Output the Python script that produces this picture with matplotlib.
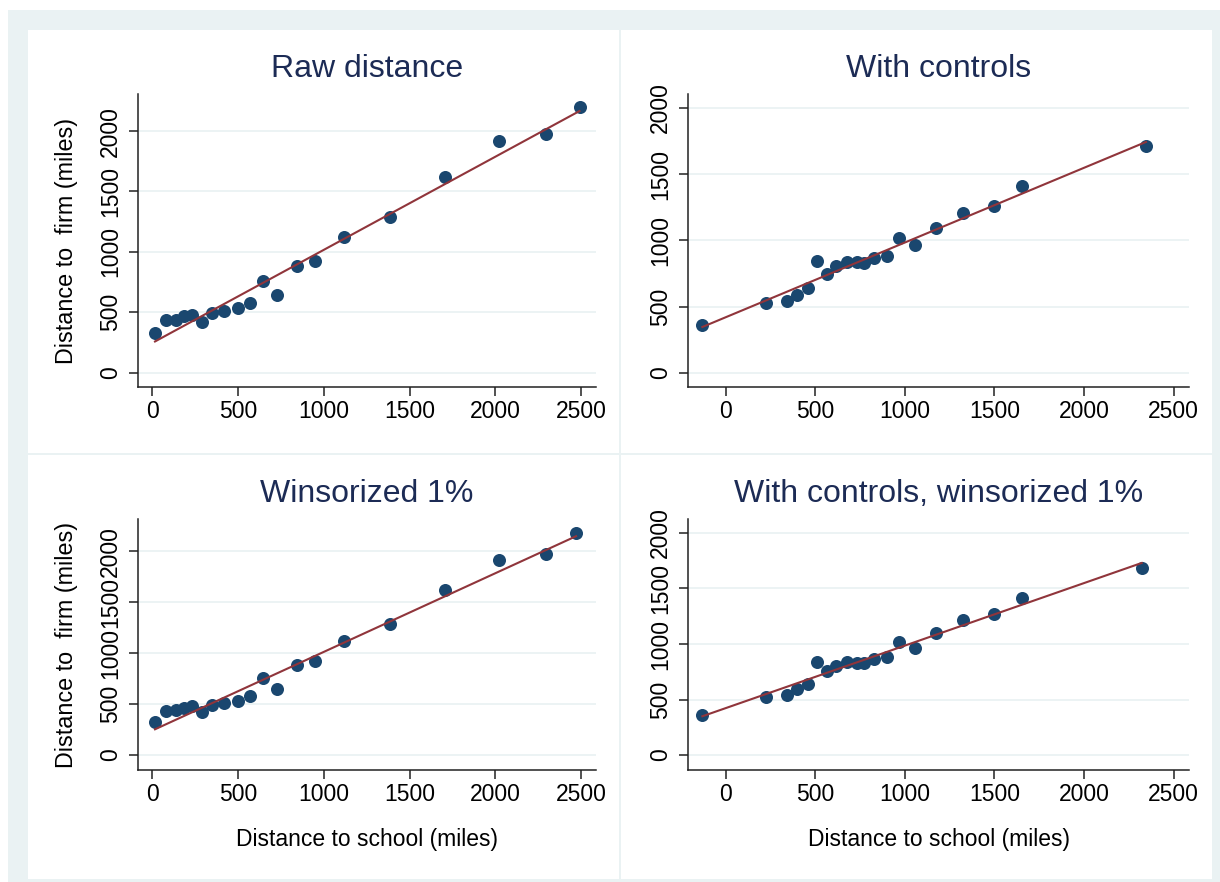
import numpy as np
import matplotlib
matplotlib.use('Agg')
import matplotlib.pyplot as plt
from matplotlib.patches import Rectangle

plt.rcParams['font.family'] = ['Liberation Sans', 'DejaVu Sans']

# binned points
raw_x = [16, 83, 138, 187, 233, 288, 350, 417, 498, 570, 643, 729, 844, 948, 1116, 1388, 1706, 2020, 2292, 2490]
raw_y = [326, 437, 437, 465, 478, 418, 492, 512, 531, 575, 755, 644, 885, 921, 1120, 1286, 1621, 1920, 1972, 2202]
raw_fit_x = [16, 2490]
raw_fit_y = [257, 2166]

ctrl_x = [-130, 228, 343, 397, 457, 512, 568, 618, 676, 731, 774, 830, 902, 967, 1058, 1175, 1322, 1498, 1656, 2346]
ctrl_y = [360, 528, 541, 586, 644, 843, 750, 808, 835, 835, 828, 868, 883, 1016, 966, 1097, 1210, 1260, 1411, 1711]
ctrl_fit_x = [-130, 2346]
ctrl_fit_y = [347, 1744]

wins_x = [16, 83, 138, 187, 233, 288, 350, 417, 498, 570, 643, 729, 844, 948, 1116, 1388, 1706, 2020, 2292, 2470]
wins_y = [321, 436, 437, 465, 478, 418, 492, 512, 531, 575, 754, 646, 885, 921, 1120, 1286, 1621, 1918, 1974, 2185]
wins_fit_x = [16, 2470]
wins_fit_y = [252, 2150]

ctrlw_x = [-130, 228, 343, 397, 457, 512, 568, 618, 676, 731, 774, 830, 902, 967, 1058, 1175, 1322, 1498, 1656, 2322]
ctrlw_y = [361, 526, 541, 593, 638, 839, 755, 803, 839, 833, 830, 866, 881, 1014, 966, 1098, 1212, 1266, 1417, 1684]
ctrlw_fit_x = [-130, 2322]
ctrlw_fit_y = [349, 1730]

titles = ['Raw distance', 'With controls', 'Winsorized 1%', 'With controls, winsorized 1%']
xticks = [0, 500, 1000, 1500, 2000, 2500]
yticks = [0, 500, 1000, 1500, 2000]

W, H = 1220, 882
bg = '#EAF2F3'
navy = '#1A476F'
maroon = '#90353B'
title_col = '#1C2B55'

fig = plt.figure(figsize=(W / 100, H / 100), dpi=100, facecolor='white')

def px_rect(l, t, r, b, color):
    fig.patches.append(Rectangle((l / W, 1 - b / H), (r - l) / W, (b - t) / H,
                                 transform=fig.transFigure, facecolor=color,
                                 edgecolor='none', zorder=-2))

# light graph region, then white panels on it
px_rect(8, 10, 1220, 882, bg)
for (l, t, r, b) in [(28, 30, 619, 453), (621, 30, 1212, 453), (28, 455, 619, 879), (621, 455, 1212, 879)]:
    px_rect(l, t, r, b, 'white')

panels = [
    (raw_x, raw_y, raw_fit_x, raw_fit_y, (138, 94, 596, 387), (-83, 2586), (-120, 2307)),
    (ctrl_x, ctrl_y, ctrl_fit_x, ctrl_fit_y, (688, 94, 1189, 387), (-210, 2586), (-106, 2106)),
    (wins_x, wins_y, wins_fit_x, wins_fit_y, (138, 519, 596, 770), (-83, 2586), (-148, 2319)),
    (ctrlw_x, ctrlw_y, ctrlw_fit_x, ctrlw_fit_y, (688, 519, 1189, 770), (-210, 2586), (-135, 2126)),
]

for i, (x, y, fx, fy, box, xl, yl) in enumerate(panels):
    l, t, r, b = box
    ax = fig.add_axes([l / W, 1 - b / H, (r - l) / W, (b - t) / H])
    ax.patch.set_visible(False)
    ax.scatter(x, y, s=88, color=navy, zorder=3, linewidths=0)
    ax.plot(fx, fy, color=maroon, lw=1.5, zorder=4)
    ax.set_xlim(xl)
    ax.set_ylim(yl)
    ax.set_xticks(xticks)
    ax.set_yticks(yticks)
    ax.grid(axis='y', color=bg, lw=1.3, zorder=1)
    ax.set_axisbelow(True)
    for s in ['top', 'right']:
        ax.spines[s].set_visible(False)
    for s in ['left', 'bottom']:
        ax.spines[s].set_linewidth(1.1)
        ax.spines[s].set_color('#222222')
    ax.tick_params(axis='both', length=6.5, width=1.1, color='#222222', labelsize=16.5)
    ax.tick_params(axis='x', pad=3)
    ax.tick_params(axis='y', pad=5)
    for lab in ax.get_yticklabels():
        lab.set_rotation(90)
        lab.set_va('center')
    ax.set_title(titles[i], fontsize=23, color=title_col, pad=12)
    if i % 2 == 0:
        ax.set_ylabel('Distance to  firm (miles)', fontsize=16.8, labelpad=15)
    if i >= 2:
        ax.set_xlabel('Distance to school (miles)', fontsize=16.5, labelpad=16)

fig.savefig('out.png', dpi=100, facecolor='white')
